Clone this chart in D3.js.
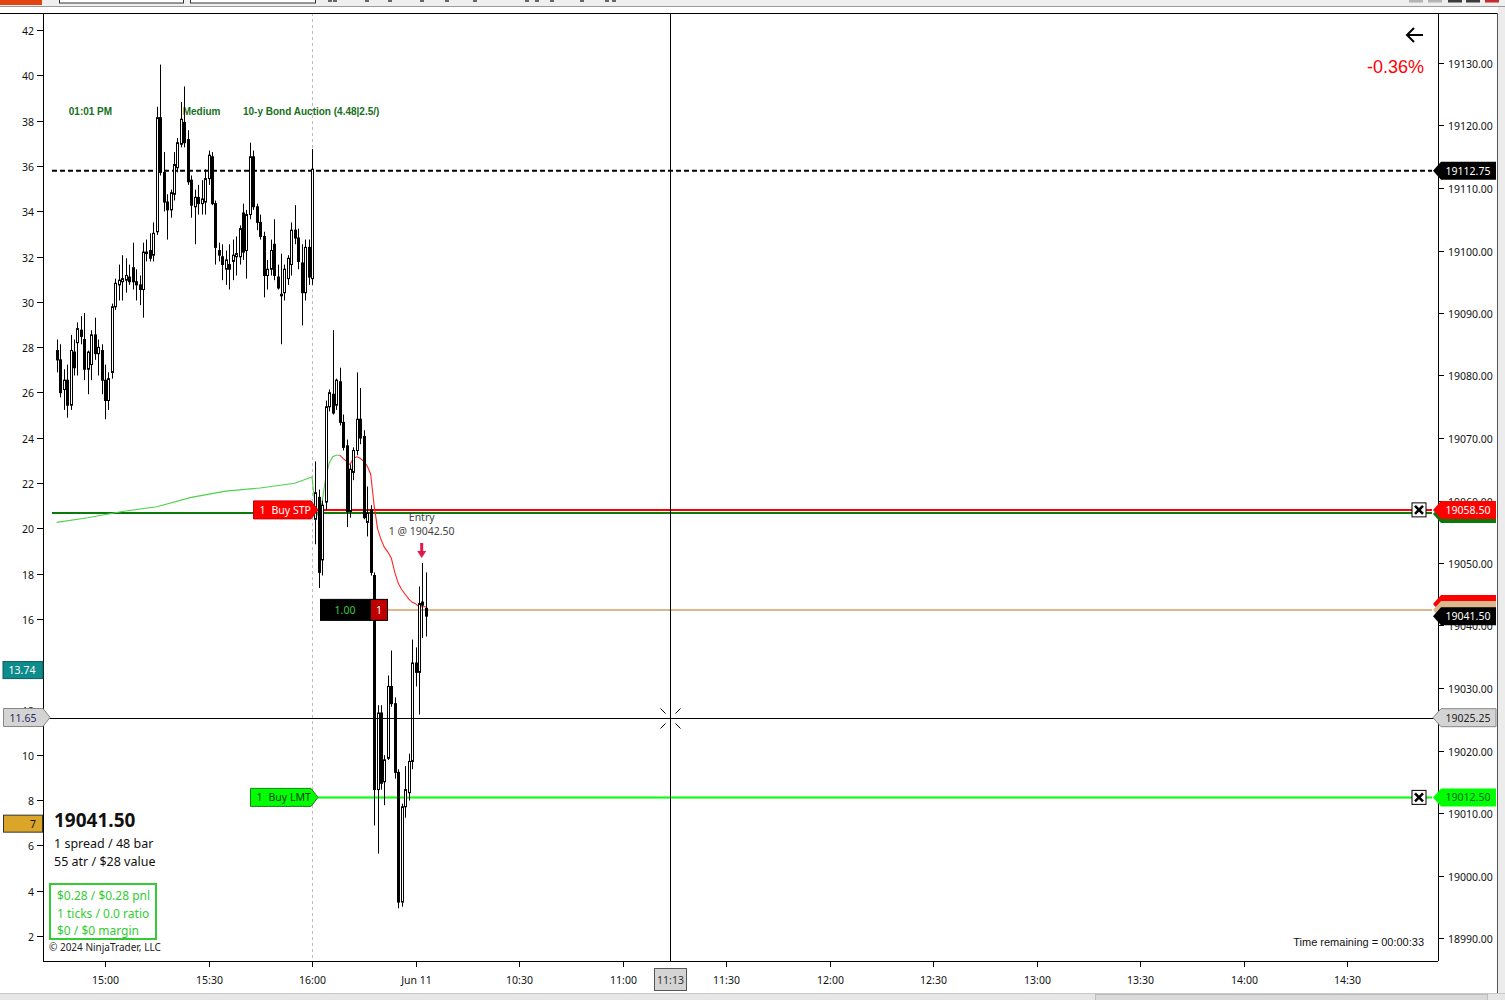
<!DOCTYPE html>
<html><head><meta charset="utf-8">
<script src="https://cdn.jsdelivr.net/npm/d3@7"></script>
<style>
html,body{margin:0;padding:0;background:#fff;overflow:hidden}
svg{display:block}
</style></head><body>
<svg id="c" width="1505" height="1000"></svg>
<script>
// ---------------- DATA ----------------
const firstBar = -14; // bar index of first candle (0 = 15:00 bar)
const opens = [19084,19082.5,19077.75,19079.25,19075.25,19083.75,19085.25,19087.25,19085.75,19081,19081.75,19086.5,19083.5,19084,19079.25,19076,19080.5,19091,19094.5,19095,19095.25,19095.75,19097.25,19095,19094.5,19093.75,19099.5,19100,19099.25,19103,19121.25,19112.5,19107.75,19106.5,19109,19113.25,19117,19120.5,19117.75,19111.25,19107,19108.5,19107.5,19107.75,19111.5,19115,19107.5,19100,19099,19097,19097.75,19098.25,19099,19099,19106,19100,19105.75,19115,19107,19104.5,19102.25,19096,19097,19101,19095.75,19093,19093.25,19095.5,19097.75,19103.25,19102,19098,19093.25,19100.5,19095.5,
  19057,19060.5,19050.5,19059.75,19075,19077,19075.25,19079,19072.5,19068.75,19058.25,19064.5,19068,19073,19070.25,19056.5,19058.5,19048,19013.75,19026,19015,19018.75,19030.25,19027.5,19016.5,18995.75,19011,19013.25,19018.25,19034,19032.5,19043.75,19042.75];
const highs = [19085.75,19085,19081,19081.75,19086.5,19085.75,19088.5,19089.5,19090,19084,19087.25,19089.25,19085.75,19085,19081.75,19080.5,19091.5,19095.5,19097.75,19099.25,19098.75,19097.75,19101.25,19097,19096,19101.25,19101.75,19102.75,19104.5,19123,19129.75,19115.75,19109,19109.75,19115.75,19118,19123.75,19126.25,19119.25,19112,19109.75,19110.5,19111.25,19113,19116,19115.75,19108,19101.25,19101,19100,19101,19101.75,19102.25,19104,19107.5,19106.5,19117.25,19116,19107.5,19105.75,19103,19098.5,19101.75,19105,19097.75,19099.5,19097.75,19099.25,19104.5,19107.25,19103.5,19101,19101.75,19101.75,19116.25,
  19066.25,19061.75,19060,19076,19077.75,19087.25,19079.5,19081.25,19073.75,19069.75,19065.75,19068.5,19080.5,19078,19071.25,19062.25,19059.25,19048.5,19027.25,19027.25,19019.25,19032,19036,19028.5,19017,19011.5,19017.5,19019.5,19037.75,19036.5,19046.25,19050,19048.5];
const lows = [19080.5,19076.5,19074.5,19073.25,19074.5,19080,19080,19085,19079.25,19077,19079.25,19082.5,19080,19077,19073,19074.5,19079.5,19090.5,19092,19092,19093.25,19094.5,19093.75,19092,19091.25,19089.25,19098.25,19098.25,19098.25,19102.5,19112,19106.25,19101.75,19105.25,19108,19112.5,19116.5,19116.5,19110.5,19105.25,19101,19105.75,19105.75,19105.75,19110.5,19107.25,19097.75,19098.25,19095.25,19094.5,19093.75,19095.25,19096,19097.75,19098.5,19095.5,19105,19106.5,19103.25,19101.75,19092.5,19093.75,19096,19095.25,19093.75,19085,19092,19094.5,19096,19101,19097,19088,19092,19094.5,19094.5,
  19053,19046,19048,19058.5,19074.25,19073.75,19074.5,19072,19068,19055.75,19057.25,19063.25,19067.25,19069,19057,19054.25,19048,19008,19003.5,19013.75,19011.25,19018.5,19027,19015.5,18994.75,18995,19009.25,19012,19017,19030.25,19025.75,19038,19038.25];
const closes = [19082.5,19077.25,19079.25,19075.25,19084,19081.25,19087.5,19086.25,19081,19083.75,19086.5,19083.5,19084.5,19079.25,19076,19079.5,19091,19094.75,19095.25,19095.5,19096,19095,19095,19094.5,19093.75,19099.75,19099.75,19098.75,19102.75,19121.25,19112.5,19107.75,19106.5,19109.25,19113.75,19117.25,19121,19117.25,19111,19107.25,19108.5,19107.5,19108.25,19111.5,19115.25,19107.5,19100.5,19099.25,19097.75,19098.5,19097,19099.25,19099.5,19103.5,19099.75,19105.75,19115,19107,19104.5,19102.25,19096,19097,19100,19096,19094,19092.75,19097,19098.75,19103.25,19102,19098.25,19093.25,19100.5,19095.75,19113,
  19061.25,19048.5,19059.25,19075,19077.25,19074,19079.25,19072.5,19068.5,19058.25,19065,19068,19073,19070,19057.25,19058,19048.5,19013.75,19026,19014.75,19018.5,19030.25,19027.5,19016.5,18995.75,19011,19013.75,19018.25,19034,19032.5,19043.5,19043.25,19041.5];

// moving average (price scale), by bar index
const maIndex = [-14,-5,5,15,25,35,45,55,60,61,62,63,64,65,66,67,68,69,70,71,72,73,74,75,76,77,78,79,80,81,82,83,84,85,86,87,88,89,90,91,92,93];
const maValue = [19056.5,19057.25,19058.25,19059,19060.5,19061.5,19062,19062.75,19063.75,19058.75,19057.25,19060,19063.75,19066,19067,19067.25,19067.25,19066.75,19066.25,19065.75,19066.75,19067,19066.75,19066.25,19065.5,19064.25,19059.25,19055.5,19053.75,19052.5,19051.75,19050.75,19048.5,19046.75,19045.75,19045,19044.25,19043.75,19043.5,19043,19043,19043];
const maTurnIndex = 68;

const timeTickIndex = [0,30,60,90,120,150,180,210,240,270,300,330,360];
const timeTickLabels = ["15:00","15:30","16:00","Jun 11","10:30","11:00","11:30","12:00","12:30","13:00","13:30","14:00","14:30"];
const priceTicks = [18990,19000,19010,19020,19030,19040,19050,19060,19070,19080,19090,19100,19110,19120,19130];
const leftTicks = [2,4,6,8,10,12,14,16,18,20,22,24,26,28,30,32,34,36,38,40,42];

const sessionBreakIndex = 60;
const dashedLevel = 19112.75;
const stopPrice = 19058.50;
const greenLevel = 19058.00;
const entryPrice = 19042.50;
const lastPrice = 19041.50;
const limitPrice = 19012.50;
const crossPrice = 19025.25;
const crossIndex = 163.7;
const crossTimeLabel = "11:13";
const leftLabels = [{v:13.74,t:"13.74"},{v:11.65,t:"11.65"},{v:6.96,t:"7"}];
const events = [{i:-10.5,t:"01:01 PM"},{i:22.5,t:"Medium"},{i:40,t:"10-y Bond Auction (4.48|2.5/)"}];
const eventPrice = 19122.25;

// ---------------- DRAW ----------------
const svg = d3.select('#c');
const F = "'Noto Sans','DejaVu Sans',sans-serif";
const FA = "'Liberation Sans',Arial,sans-serif";
const L = 43, R = 1438, T = 13, B = 961;
const X = d3.scaleLinear().domain([0,360]).range([105,1347]);
const Y = d3.scaleLinear().domain([18990,19130]).range([938,63]);
const YL = d3.scaleLinear().domain([2,42]).range([936,30]);

// window chrome
svg.append('rect').attr('x',0).attr('y',0).attr('width',1505).attr('height',1000).attr('fill','#fff');
svg.append('rect').attr('x',0).attr('y',0).attr('width',1505).attr('height',6).attr('fill','#efefef');
svg.append('rect').attr('x',0).attr('y',0).attr('width',42).attr('height',5).attr('fill','#e2450f');
[[59,183],[190,315]].forEach(([a,b])=>svg.append('rect').attr('x',a+0.5).attr('y',-3).attr('width',b-a).attr('height',6).attr('fill','#fff').attr('stroke','#333'));
[328,333,365,388,420,445,473,525,535,550,580,605,612].forEach(x=>svg.append('rect').attr('x',x).attr('y',0).attr('width',4).attr('height',2).attr('fill','#666'));
[[1409,'#b4b4b4'],[1428,'#b4b4b4'],[1448,'#3c3c3c'],[1466,'#3c3c3c'],[1485,'#c42b2b']].forEach(([x,c])=>svg.append('rect').attr('x',x).attr('y',0).attr('width',14).attr('height',2.5).attr('fill',c));
svg.append('line').attr('x1',0).attr('x2',1505).attr('y1',6.5).attr('y2',6.5).attr('stroke','#9a9a9a');
svg.append('rect').attr('x',1498).attr('y',7).attr('width',7).attr('height',993).attr('fill','#ececec');
svg.append('line').attr('x1',1497.5).attr('x2',1497.5).attr('y1',T).attr('y2',993).attr('stroke','#555');
svg.append('rect').attr('x',0).attr('y',993).attr('width',1505).attr('height',7).attr('fill','#e6e6e6');
svg.append('line').attr('x1',0).attr('x2',1505).attr('y1',993.5).attr('y2',993.5).attr('stroke','#c8c8c8');
svg.append('rect').attr('x',1095.5).attr('y',994.5).attr('width',392).attr('height',6).attr('fill','#dadada').attr('stroke','#bdbdbd');

// clip
svg.append('defs').append('clipPath').attr('id','plot').append('rect').attr('x',L).attr('y',T).attr('width',R-L).attr('height',B-T);
const g = svg.append('g').attr('clip-path','url(#plot)');

// session break
g.append('line').attr('x1',Math.round(X(sessionBreakIndex))+0.5).attr('x2',Math.round(X(sessionBreakIndex))+0.5).attr('y1',T).attr('y2',B)
 .attr('stroke','#bdbdbd').attr('stroke-dasharray','3,3');

// event labels
events.forEach(e=>g.append('text').attr('x',X(e.i)).attr('y',Y(eventPrice)+4).text(e.t)
 .attr('font-family',FA).attr('font-weight','bold').attr('font-size',10).attr('fill','#17701a'));

// horizontal level lines
const lvl = (p,x1,x2,col,w,dash)=>{const l=g.append('line').attr('x1',x1).attr('x2',x2).attr('y1',Y(p)).attr('y2',Y(p)).attr('stroke',col).attr('stroke-width',w); if(dash) l.attr('stroke-dasharray',dash); return l;};
lvl(dashedLevel,52,1432,'#000',2,'5,3');
lvl(greenLevel,52,1432,'#0a7a0a',2);
lvl(stopPrice,318,1432,'#ff0000',2);
lvl(entryPrice,388,1432,'#ddb88c',2);
lvl(limitPrice,318,1432,'#00ff00',2);

// MA line
const maPts = maIndex.map((d,i)=>[d,maValue[i]]);
const line = d3.line().x(d=>X(d[0])).y(d=>Y(d[1]));
g.append('path').datum(maPts.filter(d=>d[0]<=maTurnIndex)).attr('d',line).attr('fill','none').attr('stroke','#4fd14f').attr('stroke-width',1.1);
g.append('path').datum(maPts.filter(d=>d[0]>=maTurnIndex)).attr('d',line).attr('fill','none').attr('stroke','#ff2626').attr('stroke-width',1.1);

// candles
const bars = opens.map((o,i)=>({i:firstBar+i,o,h:highs[i],l:lows[i],c:closes[i]}));
const cg = g.append('g');
bars.forEach(b=>{
  const x = Math.round(X(b.i))+0.5;
  cg.append('line').attr('x1',x).attr('x2',x).attr('y1',Y(b.h)).attr('y2',Y(b.l)).attr('stroke','#000').attr('stroke-width',1);
  const top = Y(Math.max(b.o,b.c)), bot = Y(Math.min(b.o,b.c));
  const hgt = Math.max(1,bot-top);
  if (b.c >= b.o) {
    cg.append('rect').attr('x',x-1).attr('y',top).attr('width',2).attr('height',hgt).attr('fill','#fff').attr('stroke','#000').attr('stroke-width',1);
  } else {
    cg.append('rect').attr('x',x-1.5).attr('y',top-0.5).attr('width',3).attr('height',hgt+1).attr('fill','#000');
  }
});

// crosshair
const cx = Math.round(X(crossIndex))+0.5, cy = Math.round(Y(crossPrice))+0.5;
svg.append('line').attr('x1',cx).attr('x2',cx).attr('y1',T).attr('y2',B).attr('stroke','#000');
svg.append('line').attr('x1',L).attr('x2',R).attr('y1',cy).attr('y2',cy).attr('stroke','#000');
const cw = svg.append('g').attr('stroke','#000').attr('stroke-width',1);
[[-10,-10,-5,-5],[10,-10,5,-5],[-10,10,-5,5],[10,10,5,5]].forEach(([a,b,c,d])=>cw.append('line').attr('x1',cx+a).attr('y1',cy+b).attr('x2',cx+c).attr('y2',cy+d));

// order flags
function flag(p,x0,fill,stroke,txtCol,num,label){
  const y=Y(p), tip=318;
  svg.append('path').attr('d',`M${x0},${y-9}H${tip-7}L${tip},${y}L${tip-7},${y+9}H${x0}Z`).attr('fill',fill).attr('stroke',stroke).attr('stroke-width',1);
  svg.append('text').attr('x',x0+6).attr('y',y+4).text(num).attr('font-family',F).attr('font-size',10.5).attr('fill',txtCol);
  svg.append('text').attr('x',x0+18).attr('y',y+4).text(label).attr('font-family',F).attr('font-size',10.5).attr('fill',txtCol);
}
flag(stopPrice,253.5,'#ff0000','#cc0000','#fff','1','Buy STP');
flag(limitPrice,250.5,'#00ff00','#1a801a','#0b3a0b','1','Buy LMT');

// position box
const py = Y(entryPrice);
svg.append('rect').attr('x',320.5).attr('y',py-10.5).attr('width',50).attr('height',21).attr('fill','#000').attr('stroke','#000');
svg.append('rect').attr('x',370.5).attr('y',py-10.5).attr('width',17).attr('height',21).attr('fill','#c00000').attr('stroke','#000');
svg.append('text').attr('x',345).attr('y',py+4).attr('text-anchor','middle').text('1.00').attr('font-family',F).attr('font-size',10.5).attr('fill','#3cc83c');
svg.append('text').attr('x',379).attr('y',py+4).attr('text-anchor','middle').text('1').attr('font-family',F).attr('font-size',10.5).attr('fill','#fff');

// entry annotation
const ex = X(91.8);
svg.append('text').attr('x',ex).attr('y',521).attr('text-anchor','middle').text('Entry').attr('font-family',F).attr('font-size',10.5).attr('fill','#444');
svg.append('text').attr('x',ex).attr('y',535).attr('text-anchor','middle').text('1 @ 19042.50').attr('font-family',F).attr('font-size',10.5).attr('fill','#444');
svg.append('rect').attr('x',ex-1.5).attr('y',543).attr('width',3).attr('height',9).attr('fill','#e0184d');
svg.append('path').attr('d',`M${ex-4.5},551L${ex+4.5},551L${ex},558Z`).attr('fill','#e0184d');

// close boxes
[stopPrice,limitPrice].forEach(p=>{
  const y=Y(p), x=1419;
  svg.append('rect').attr('x',x-7).attr('y',y-7).attr('width',14).attr('height',14).attr('fill','#fff').attr('stroke','#000');
  svg.append('path').attr('d',`M${x-4},${y-4}L${x+4},${y+4}M${x+4},${y-4}L${x-4},${y+4}`).attr('stroke','#000').attr('stroke-width',2.6);
});

// border
svg.append('line').attr('x1',0).attr('x2',1497).attr('y1',T+0.5).attr('y2',T+0.5).attr('stroke','#000');
svg.append('line').attr('x1',L+0.5).attr('x2',L+0.5).attr('y1',T).attr('y2',B).attr('stroke','#000');
svg.append('line').attr('x1',R+0.5).attr('x2',R+0.5).attr('y1',T).attr('y2',B).attr('stroke','#000');
svg.append('line').attr('x1',L).attr('x2',R).attr('y1',B+0.5).attr('y2',B+0.5).attr('stroke','#000');

// axes
const ra = svg.append('g');
priceTicks.forEach(p=>{
  const y=Math.round(Y(p))+0.5;
  ra.append('line').attr('x1',R).attr('x2',R+6).attr('y1',y).attr('y2',y).attr('stroke','#000');
  ra.append('text').attr('x',R+10).attr('y',y+4).text(d3.format('.2f')(p)).attr('font-family',F).attr('font-size',10.5).attr('fill','#111');
});
leftTicks.forEach(v=>{
  const y=Math.round(YL(v))+0.5;
  svg.append('line').attr('x1',L-6).attr('x2',L).attr('y1',y).attr('y2',y).attr('stroke','#000');
  svg.append('text').attr('x',L-9).attr('y',y+4).attr('text-anchor','end').text(v).attr('font-family',F).attr('font-size',10.5).attr('fill','#111');
});
timeTickIndex.forEach((t,i)=>{
  const x=Math.round(X(t))+0.5;
  svg.append('line').attr('x1',x).attr('x2',x).attr('y1',B).attr('y2',B+6).attr('stroke','#000');
  svg.append('text').attr('x',x).attr('y',984).attr('text-anchor','middle').text(timeTickLabels[i]).attr('font-family',F).attr('font-size',10.5).attr('fill','#111');
});
svg.append('rect').attr('x',cx-16).attr('y',968.5).attr('width',32).attr('height',22).attr('fill','#d4d4d4').attr('stroke','#555');
svg.append('text').attr('x',cx).attr('y',984).attr('text-anchor','middle').text(crossTimeLabel).attr('font-family',F).attr('font-size',10.5).attr('fill','#333');

// right price labels
function plabel(y,fill,col,txt,stroke){
  svg.append('path').attr('d',`M1433,${y}L1441,${y-9}H1496V${y+9}H1441Z`).attr('fill',fill).attr('stroke',stroke||'none');
  if(txt) svg.append('text').attr('x',1468).attr('y',y+4).attr('text-anchor','middle').text(txt).attr('font-family',F).attr('font-size',10.5).attr('fill',col);
}
plabel(Y(dashedLevel),'#000','#fff','19112.75');
plabel(Y(greenLevel)+1,'#0a7a0a','#fff',null);
plabel(Y(stopPrice),'#ff0000','#fff','19058.50');
plabel(Y(entryPrice)-6,'#ff0000','#fff',null);
plabel(Y(entryPrice),'#ddb88c','#000',null);
plabel(Y(lastPrice),'#000','#fff','19041.50');
plabel(Y(crossPrice),'#d4d4d4','#222','19025.25','#888');
plabel(Y(limitPrice),'#00ff00','#062','19012.50');

// left labels
const ll = leftLabels;
let y0 = YL(ll[0].v);
svg.append('rect').attr('x',3).attr('y',y0-8.5).attr('width',40).attr('height',17).attr('fill','#0e8c8c').attr('stroke','#0a5c5c');
svg.append('text').attr('x',22).attr('y',y0+4).attr('text-anchor','middle').text(ll[0].t).attr('font-family',F).attr('font-size',10.5).attr('fill','#fff');
y0 = Math.round(YL(ll[1].v))+0.5;
svg.append('path').attr('d',`M3.5,${y0-9}H43L50,${y0}L43,${y0+9}H3.5Z`).attr('fill','#d4d4d4').attr('stroke','#888');
svg.append('text').attr('x',23).attr('y',y0+4).attr('text-anchor','middle').text(ll[1].t).attr('font-family',F).attr('font-size',10.5).attr('fill','#2a2a66');
y0 = YL(ll[2].v);
svg.append('rect').attr('x',3.5).attr('y',y0-8.5).attr('width',39).attr('height',17).attr('fill','#dba52a').attr('stroke','#333');
svg.append('text').attr('x',36).attr('y',y0+4).attr('text-anchor','end').text(ll[2].t).attr('font-family',F).attr('font-size',10.5).attr('fill','#111');

// info panel
svg.append('text').attr('x',54).attr('y',827).text('19041.50').attr('font-family',F).attr('font-weight','bold').attr('font-size',19).attr('fill','#111');
svg.append('text').attr('x',54).attr('y',848).text('1 spread / 48 bar').attr('font-family',F).attr('font-size',12.5).attr('fill','#111');
svg.append('text').attr('x',54).attr('y',866).text('55 atr / $28 value').attr('font-family',F).attr('font-size',12.5).attr('fill','#111');
svg.append('rect').attr('x',50).attr('y',884).attr('width',106).attr('height',55).attr('fill','#fff').attr('stroke','#33cc33').attr('stroke-width',2);
['$0.28 / $0.28 pnl','1 ticks / 0.0 ratio','$0 / $0 margin'].forEach((t,i)=>
  svg.append('text').attr('x',57).attr('y',900+i*17.5).text(t).attr('font-family',F).attr('font-size',12).attr('fill','#33cc33'));
svg.append('text').attr('x',49).attr('y',951).text('© 2024 NinjaTrader, LLC').attr('font-family',F).attr('font-size',10).attr('fill','#222');
svg.append('text').attr('x',1424).attr('y',946).attr('text-anchor','end').text('Time remaining = 00:00:33').attr('font-family',FA).attr('font-size',11).attr('fill','#111');

// top right
svg.append('path').attr('d','M1423,35H1407M1414,28L1407,35L1414,42').attr('stroke','#000').attr('stroke-width',2).attr('fill','none');
svg.append('text').attr('x',1424).attr('y',73).attr('text-anchor','end').text('-0.36%').attr('font-family',FA).attr('font-size',18).attr('fill','#ff0000');
</script>
</body></html>
